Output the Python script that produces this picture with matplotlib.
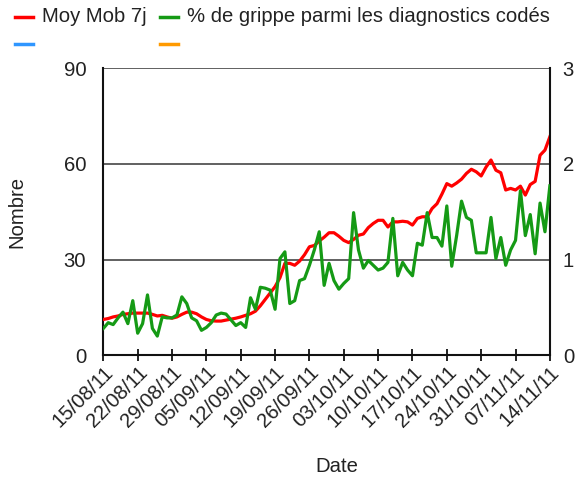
import matplotlib
matplotlib.use("Agg")
import matplotlib.pyplot as plt
import matplotlib.dates as mdates
from matplotlib.lines import Line2D
import pandas as pd

plt.rcParams['font.family'] = ['Liberation Sans', 'DejaVu Sans']

start_date = "2011-08-15"
n_days = 92

moy_mob_7j = [
    11.2, 11.5, 12.0, 12.3, 12.8, 13.0, 13.2, 13.2, 13.2, 13.2,
    12.8, 12.3, 12.5, 12.0, 11.6, 12.0, 12.8, 13.5, 13.5, 13.0,
    12.0, 11.2, 10.8, 10.7, 10.7, 11.0, 11.3, 11.6, 12.0, 12.5,
    13.0, 13.8, 15.5, 17.5, 19.5, 21.5, 24.3, 28.8, 28.8, 28.2,
    29.5, 31.5, 34.0, 34.4, 35.8, 37.0, 38.4, 38.4, 37.3, 36.0,
    35.3, 36.3, 37.6, 38.0, 40.0, 41.3, 42.3, 42.3, 40.2, 41.8,
    41.8, 42.0, 41.8, 40.8, 42.9, 43.4, 43.4, 46.0, 47.5, 50.5,
    53.8, 53.0, 54.0, 55.2, 57.0, 58.3, 57.5, 56.2, 59.0, 61.2,
    58.0, 57.2, 51.8, 52.3, 51.8, 53.0, 50.2, 53.5, 54.5, 62.7,
    64.3, 68.5,
]

pct_grippe = [
    0.28, 0.34, 0.32, 0.39, 0.45, 0.33, 0.57, 0.23, 0.33, 0.63,
    0.28, 0.20, 0.40, 0.39, 0.39, 0.42, 0.61, 0.54, 0.39, 0.36,
    0.26, 0.29, 0.34, 0.42, 0.44, 0.43, 0.37, 0.31, 0.34, 0.29,
    0.60, 0.48, 0.71, 0.70, 0.68, 0.48, 1.01, 1.08, 0.54, 0.57,
    0.78, 0.80, 0.94, 1.10, 1.29, 0.73, 0.96, 0.78, 0.69, 0.75,
    0.80, 1.49, 1.10, 0.91, 0.99, 0.94, 0.89, 0.91, 0.97, 1.43,
    0.83, 0.97, 0.89, 0.83, 1.17, 1.15, 1.49, 1.23, 1.23, 1.14,
    1.56, 0.93, 1.25, 1.61, 1.44, 1.41, 1.07, 1.07, 1.07, 1.44,
    1.01, 1.23, 0.94, 1.10, 1.20, 1.72, 1.25, 1.47, 1.06, 1.59,
    1.29, 1.77,
]

left_ticks = [0, 30, 60, 90]
right_ticks = [0, 1, 2, 3]

series_labels = ["Moy Mob 7j", "% de grippe parmi les diagnostics codés"]
series_colors = ["#ff0000", "#159a15", "#2f96ff", "#ff9a00"]

dates = pd.date_range(start_date, periods=n_days, freq="D")
tick_dates = pd.date_range(start_date, periods=14, freq="7D")

TXT = "#222222"
FS = 14.6

fig = plt.figure(figsize=(5.75, 4.8), dpi=100)
ax = fig.add_axes([0.179, 0.260, 0.778, 0.598])
ax2 = ax.twinx()

ax.set_ylim(0, 90)
ax2.set_ylim(0, 3)
ax.set_xlim(dates[0] - pd.Timedelta(hours=2), dates[-1] + pd.Timedelta(hours=2))

for y in left_ticks[1:]:
    ax.axhline(y, color="#606060", lw=1.4, zorder=1)

ax.plot(dates, moy_mob_7j, color=series_colors[0], lw=2.3, zorder=3)
ax2.plot(dates, pct_grippe, color=series_colors[1], lw=2.3, zorder=3)

ax.set_yticks(left_ticks)
ax2.set_yticks(right_ticks)
ax.set_xticks(tick_dates)
ax.xaxis.set_major_formatter(mdates.DateFormatter("%d/%m/%y"))

for a in (ax, ax2):
    for s in a.spines.values():
        s.set_visible(False)
ax.spines['left'].set_visible(True)
ax.spines['bottom'].set_visible(True)
ax2.spines['right'].set_visible(True)
for s in (ax.spines['left'], ax.spines['bottom'], ax2.spines['right']):
    s.set_color("#111111")
    s.set_linewidth(1.5)

ax.tick_params(axis='y', length=0, pad=12, labelsize=FS, labelcolor=TXT)
ax2.tick_params(axis='y', length=0, pad=9, labelsize=FS, labelcolor=TXT)
ax.tick_params(axis='x', direction='inout', length=9, width=1.3, color="#111111",
               labelsize=FS, labelcolor=TXT, pad=1)
for lab in ax.get_xticklabels():
    lab.set_rotation(45)
    lab.set_ha('right')
    lab.set_rotation_mode('anchor')

ax.set_ylabel("Nombre", fontsize=FS, color=TXT)
ax.yaxis.set_label_coords(-0.172, 0.5)
fig.text(337 / 575, 1 - 466 / 480, "Date", fontsize=FS, color=TXT, ha='center', va='center')

# legend (two rows, two columns)
leg_items = [
    (15, 17, series_colors[0], series_labels[0]),
    (160, 17, series_colors[1], series_labels[1]),
    (15, 44, series_colors[2], ""),
    (160, 44, series_colors[3], ""),
]
for x0, y0, c, lab in leg_items:
    fy = 1 - y0 / 480
    fig.add_artist(Line2D([x0 / 575, (x0 + 18) / 575], [fy, fy], color=c, lw=2.5,
                          transform=fig.transFigure))
    if lab:
        fig.text((x0 + 27) / 575, fy, lab, fontsize=FS, color=TXT, ha='left', va='center')

fig.savefig("out.png", dpi=100, facecolor="white")
